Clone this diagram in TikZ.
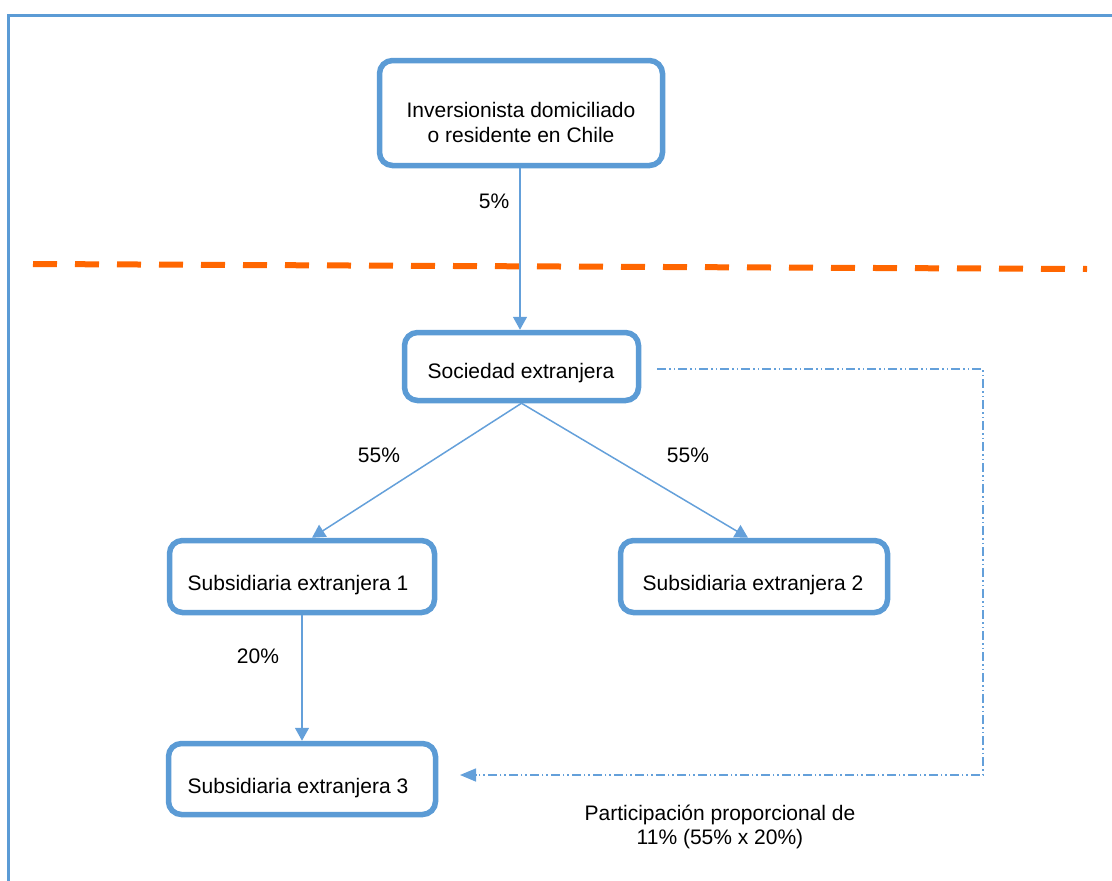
\documentclass[tikz,border=0pt]{standalone}
\usepackage{fontspec}
\setmainfont{Liberation Sans}
\usetikzlibrary{arrows.meta}
\definecolor{boxblue}{RGB}{91,155,213}
\definecolor{lineblue}{RGB}{100,160,218}
\definecolor{dashorange}{RGB}{255,102,0}
\begin{document}
\begin{tikzpicture}[x=1pt,y=-1pt,
  box/.style={draw=boxblue, line width=5.5pt, rounded corners=13pt, fill=white, inner sep=0pt},
  txt/.style={font=\fontsize{21}{25}\selectfont, align=center, inner sep=0pt},
  lbl/.style={font=\fontsize{21}{24}\selectfont, align=center, inner sep=0pt},
  conn/.style={draw=lineblue, line width=1.5pt, -{Triangle[length=13pt,width=14pt]}},
  share/.style={draw=lineblue, line width=1.5pt, dash pattern=on 9pt off 3pt on 1.5pt off 3pt on 1.5pt off 3pt, -{Triangle[length=16pt,width=13pt]}},
]
\useasboundingbox (0,0) rectangle (1112,881);
% outer frame (clipped by page)
\draw[boxblue, line width=3pt] (1112,15) -- (8,15) -- (8,881);
% border line
\draw[dashorange, line width=6pt, dash pattern=on 24pt off 18pt] (33,264) -- (1087,269);

% boxes
\node[box, minimum width=283pt, minimum height=105pt] (inv) at (521,113) {};
\node[box, minimum width=234pt, minimum height=68pt] (soc) at (521.5,366.5) {};
\node[box, minimum width=265pt, minimum height=72pt] (sub1) at (302,576.5) {};
\node[box, minimum width=267pt, minimum height=72pt] (sub2) at (754,576.5) {};
\node[box, minimum width=267pt, minimum height=71pt] (sub3) at (302,779) {};

% texts
\node[txt] (invT) at (521,122) {Inversionista domiciliado\\o residente en Chile};
\node[txt] (socT) at (521,373) {Sociedad extranjera};
\node[txt] (sub1T) at (298,585) {Subsidiaria extranjera 1};
\node[txt] (sub2T) at (753,585) {Subsidiaria extranjera 2};
\node[txt] (sub3T) at (298,788) {Subsidiaria extranjera 3};

% connectors
\draw[conn] (inv.south -| 520,0) -- (soc.north -| 520,0);
\draw[conn] (soc.south) -- ([xshift=10pt]sub1.north);
\draw[conn] (soc.south) -- ([xshift=-6pt]sub2.north);
\draw[conn] (sub1.south) -- (sub3.north);

% percentage labels
\node[lbl] (p5) at (494,201) {5\%};
\node[lbl] (p55a) at (379,455) {55\%};
\node[lbl] (p55b) at (688,455) {55\%};
\node[lbl] (p20) at (258,656) {20\%};

% proportional participation path
\coordinate (d0) at ([xshift=16pt,yshift=-2.5pt]soc.east);
\coordinate (d1) at (983,369);
\coordinate (d2) at (983,775);
\coordinate (d3) at (460,775);
\draw[share] (d0) -- (d1) -- (d2) -- (d3);

\node[lbl] (note) at (720,827) {Participación proporcional de\\11\% (55\% x 20\%)};
\end{tikzpicture}
\end{document}
